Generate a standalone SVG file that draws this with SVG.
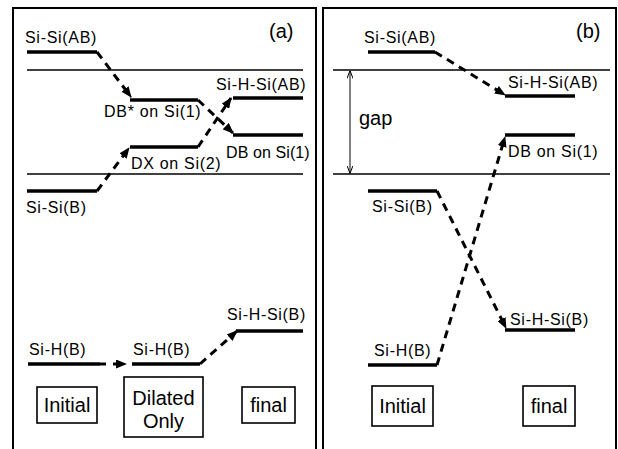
<svg xmlns="http://www.w3.org/2000/svg" width="618" height="449" viewBox="0 0 618 449">
<style>
text{font-family:"Liberation Sans",Arial,sans-serif;fill:#000}
.lbl{font-size:16px;letter-spacing:0.7px}
.big{font-size:20px}
.tag{font-size:20px}
.lev{stroke:#000;stroke-width:3.5;fill:none}
.thin{stroke:#000;stroke-width:1.5;fill:none}
.frame{stroke:#000;stroke-width:2;fill:none}
.box{stroke:#000;stroke-width:1.6;fill:#fff}
.dash{stroke:#000;stroke-width:3;fill:none;stroke-dasharray:8 6;marker-end:url(#ah)}
.gap{stroke:#000;stroke-width:1;fill:none;marker-start:url(#sh);marker-end:url(#sh)}
</style>
<defs>
<marker id="ah" markerUnits="userSpaceOnUse" markerWidth="11" markerHeight="9" refX="10" refY="4.5" orient="auto">
<path d="M0,0 L11,4.5 L0,9 Z" fill="#000"/>
</marker>
<marker id="sh" markerUnits="userSpaceOnUse" markerWidth="8" markerHeight="6" refX="7.5" refY="3" orient="auto-start-reverse">
<path d="M0,0 L8,3 L0,6" fill="none" stroke="#000" stroke-width="1"/>
</marker>
</defs>
<rect width="618" height="449" fill="#fff"/>

<g id="panel-a">
<path class="frame" d="M13,449 V8 H316 V449"/>
<text class="tag" x="269" y="38">(a)</text>
<line class="thin" x1="27" y1="70" x2="303" y2="70"/>
<line class="thin" x1="27" y1="174" x2="303" y2="174"/>
</g>
<g id="panel-b">
<path class="frame" d="M323,449 V8 H616 V449"/>
<text class="tag" x="576" y="38">(b)</text>
<line class="thin" x1="333" y1="70" x2="610" y2="70"/>
<line class="thin" x1="333" y1="174" x2="610" y2="174"/>
<line class="gap" x1="350" y1="71" x2="350" y2="173"/>
<text class="big" x="359" y="125">gap</text>
</g>

<g id="a-sisi-ab"><line class="lev" x1="27" y1="52" x2="97" y2="52"/><text class="lbl" x="25" y="43">Si-Si(AB)</text></g>
<g id="a-dbstar"><line class="lev" x1="130" y1="100" x2="198" y2="100"/><text class="lbl" x="104" y="117">DB* on Si(1)</text></g>
<g id="a-dx"><line class="lev" x1="130" y1="147" x2="198" y2="147"/><text class="lbl" x="131" y="169">DX on Si(2)</text></g>
<g id="a-sisi-b"><line class="lev" x1="27" y1="191" x2="97" y2="191"/><text class="lbl" x="26" y="213">Si-Si(B)</text></g>
<g id="a-sihsi-ab"><line class="lev" x1="233" y1="98" x2="303" y2="98"/><text class="lbl" x="216" y="90">Si-H-Si(AB)</text></g>
<g id="a-db"><line class="lev" x1="233" y1="135" x2="303" y2="135"/><text class="lbl" x="226" y="158" style="letter-spacing:0.1px">DB on Si(1)</text></g>
<g id="a-sih-init"><line class="lev" x1="28" y1="364" x2="100" y2="364"/><text class="lbl" x="29" y="355">Si-H(B)</text></g>
<g id="a-sih-dil"><line class="lev" x1="132" y1="364" x2="200" y2="364"/><text class="lbl" x="133" y="355">Si-H(B)</text></g>
<g id="a-sihsi-b"><line class="lev" x1="236" y1="331" x2="303" y2="331"/><text class="lbl" x="227" y="320">Si-H-Si(B)</text></g>
<g id="a-initial"><rect class="box" x="37" y="387" width="60" height="36"/><text class="big" x="67" y="412" text-anchor="middle">Initial</text></g>
<g id="a-dilated"><rect class="box" x="124" y="377" width="79" height="60"/><text class="big" x="163.5" y="405" text-anchor="middle">Dilated</text><text class="big" x="163.5" y="428" text-anchor="middle">Only</text></g>
<g id="a-final"><rect class="box" x="242" y="387" width="53" height="36"/><text class="big" x="268.5" y="412" text-anchor="middle">final</text></g>

<g id="b-sisi-ab"><line class="lev" x1="368" y1="52" x2="435" y2="52"/><text class="lbl" x="364" y="43">Si-Si(AB)</text></g>
<g id="b-sihsi-ab"><line class="lev" x1="505" y1="96" x2="575" y2="96"/><text class="lbl" x="508" y="88">Si-H-Si(AB)</text></g>
<g id="b-db"><line class="lev" x1="505" y1="135" x2="575" y2="135"/><text class="lbl" x="508" y="157">DB on Si(1)</text></g>
<g id="b-sisi-b"><line class="lev" x1="368" y1="191" x2="437" y2="191"/><text class="lbl" x="372" y="212">Si-Si(B)</text></g>
<g id="b-sihsi-b"><line class="lev" x1="505" y1="330" x2="575" y2="330"/><text class="lbl" x="510" y="325">Si-H-Si(B)</text></g>
<g id="b-sih"><line class="lev" x1="368" y1="365" x2="437" y2="365"/><text class="lbl" x="374" y="356">Si-H(B)</text></g>
<g id="b-initial"><rect class="box" x="372" y="386" width="61" height="40"/><text class="big" x="402.5" y="413" text-anchor="middle">Initial</text></g>
<g id="b-final"><rect class="box" x="523" y="386" width="52" height="40"/><text class="big" x="549" y="413" text-anchor="middle">final</text></g>

<g id="connectors">
<path class="dash" d="M97,52 L131,97"/>
<path class="dash" d="M198,100 L233,133"/>
<path class="dash" d="M198,147 L231,98"/>
<path class="dash" d="M97,191 L129,148"/>
<path class="dash" d="M100,364 L126,364" style="stroke-dasharray:6 7"/>
<path class="dash" d="M200,364 L237,331"/>
<path class="dash" d="M435,52 L505,95"/>
<path class="dash" d="M437,191 L506,328"/>
<path class="dash" d="M437,365 L505,137"/>
</g>
</svg>
